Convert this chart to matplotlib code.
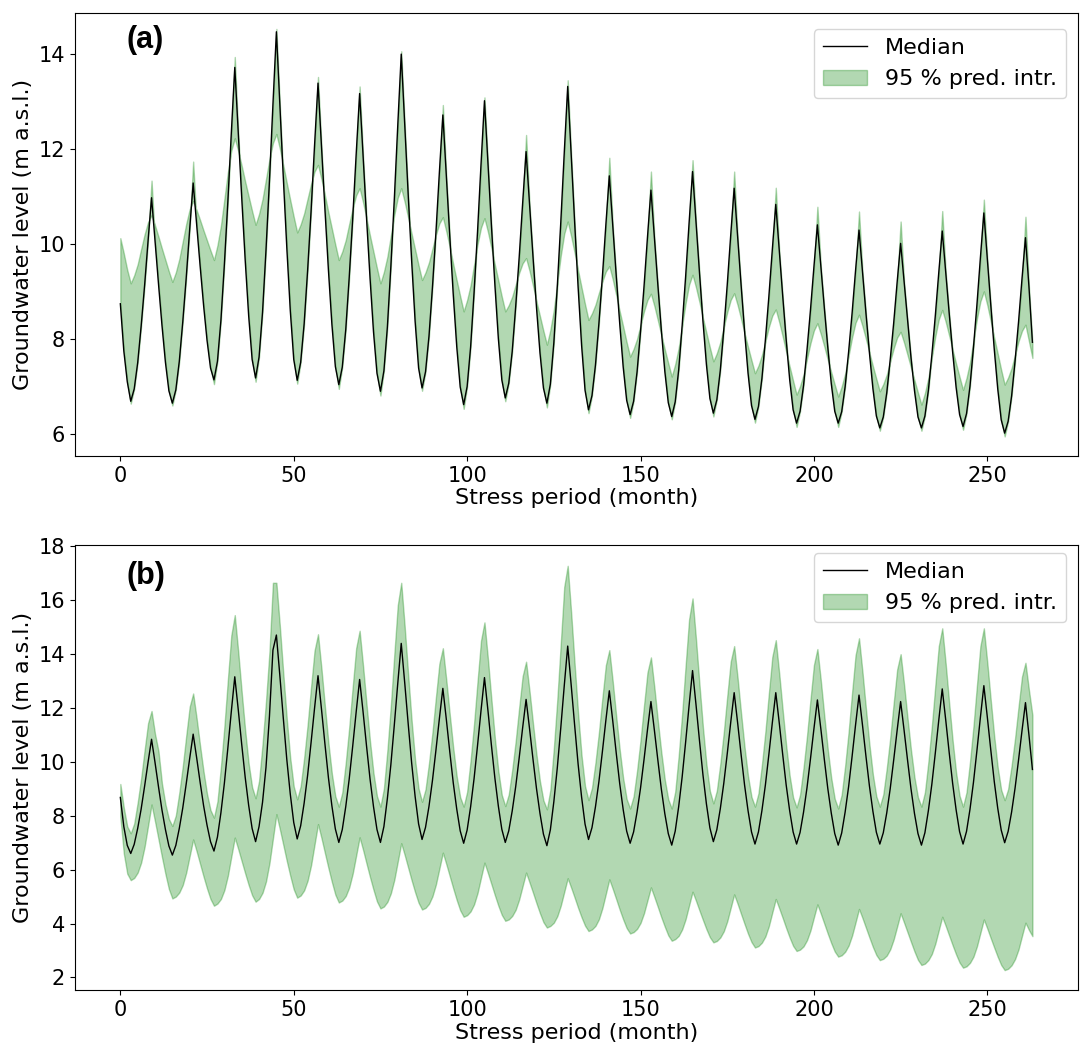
import numpy as np
import matplotlib
matplotlib.use("Agg")
import matplotlib.pyplot as plt

months = np.arange(264)

# ---------------- Panel (a) ----------------
median_a_rows = [
    [8.74, 7.75, 7.10],
    [6.69, 6.95, 7.50, 8.27, 9.13, 10.07, 10.97, 10.06, 9.16, 8.29, 7.51, 6.91],
    [6.65, 6.93, 7.53, 8.36, 9.29, 10.31, 11.28, 10.41, 9.54, 8.71, 7.97, 7.39],
    [7.14, 7.53, 8.39, 9.57, 10.89, 12.33, 13.71, 12.34, 10.97, 9.66, 8.49, 7.57],
    [7.18, 7.62, 8.56, 9.87, 11.33, 12.93, 14.46, 12.92, 11.38, 9.92, 8.60, 7.57],
    [7.13, 7.51, 8.32, 9.44, 10.69, 12.07, 13.38, 12.05, 10.72, 9.45, 8.31, 7.42],
    [7.04, 7.41, 8.20, 9.30, 10.53, 11.88, 13.16, 11.85, 10.53, 9.28, 8.15, 7.28],
    [6.90, 7.33, 8.25, 9.52, 10.94, 12.50, 13.99, 12.52, 11.04, 9.64, 8.37, 7.39],
    [6.97, 7.31, 8.06, 9.09, 10.24, 11.51, 12.71, 11.43, 10.15, 8.93, 7.84, 6.99],
    [6.62, 7.00, 7.83, 8.98, 10.26, 11.67, 13.01, 11.70, 10.39, 9.14, 8.01, 7.14],
    [6.76, 7.07, 7.74, 8.68, 9.71, 10.85, 11.94, 10.83, 9.72, 8.66, 7.71, 6.97],
    [6.65, 7.05, 7.92, 9.11, 10.45, 11.91, 13.31, 11.88, 10.45, 9.09, 7.87, 6.92],
    [6.51, 6.81, 7.45, 8.33, 9.31, 10.40, 11.43, 10.38, 9.32, 8.32, 7.41, 6.71],
    [6.41, 6.69, 7.31, 8.16, 9.10, 10.14, 11.13, 10.13, 9.13, 8.18, 7.32, 6.66],
    [6.37, 6.68, 7.35, 8.28, 9.31, 10.44, 11.52, 10.45, 9.39, 8.37, 7.46, 6.75],
    [6.44, 6.72, 7.34, 8.19, 9.14, 10.18, 11.17, 10.15, 9.13, 8.16, 7.28, 6.60],
    [6.31, 6.58, 7.17, 7.98, 8.89, 9.88, 10.83, 9.86, 8.90, 7.98, 7.15, 6.51],
    [6.23, 6.48, 7.02, 7.77, 8.61, 9.52, 10.40, 9.52, 8.65, 7.82, 7.06, 6.48],
    [6.23, 6.47, 7.00, 7.73, 8.54, 9.44, 10.29, 9.42, 8.54, 7.71, 6.96, 6.38],
    [6.13, 6.36, 6.87, 7.57, 8.34, 9.20, 10.01, 9.20, 8.38, 7.60, 6.91, 6.36],
    [6.13, 6.38, 6.92, 7.66, 8.49, 9.40, 10.27, 9.41, 8.54, 7.72, 6.98, 6.41],
    [6.16, 6.43, 7.01, 7.82, 8.72, 9.71, 10.65, 9.68, 8.71, 7.78, 6.95, 6.30],
    [6.02, 6.27, 6.80, 7.54, 8.36, 9.27, 10.13, 9.10, 7.93],
]

# band edge that follows the median: values read at peaks (spikes) and troughs (dips)
band_a_peak = [11.33, 11.73, 13.93, 14.52, 13.51, 13.31, 14.05, 12.92, 13.08, 12.29, 13.44,
               11.81, 11.52, 11.76, 11.52, 11.18, 10.78, 10.68, 10.47, 10.69, 10.93, 10.57]
band_a_trough = [6.64, 6.60, 7.05, 7.10, 7.06, 6.95, 6.81, 6.91, 6.53, 6.69, 6.56,
                 6.44, 6.34, 6.31, 6.37, 6.24, 6.15, 6.15, 6.07, 6.07, 6.09, 5.95]

# other (damped) band edge
band_a_other_rows = [
    [10.12, 9.80, 9.45],
    [9.17, 9.34, 9.57, 9.89, 10.20, 10.46, 10.60, 10.39, 10.15, 9.90, 9.66, 9.42],
    [9.20, 9.40, 9.68, 10.05, 10.42, 10.73, 10.90, 10.71, 10.50, 10.28, 10.07, 9.86],
    [9.66, 9.97, 10.38, 10.94, 11.50, 11.96, 12.22, 11.95, 11.64, 11.31, 11.00, 10.69],
    [10.40, 10.63, 10.94, 11.36, 11.78, 12.12, 12.31, 12.00, 11.65, 11.28, 10.92, 10.57],
    [10.24, 10.41, 10.64, 10.95, 11.26, 11.52, 11.66, 11.36, 11.02, 10.66, 10.32, 9.98],
    [9.66, 9.84, 10.08, 10.42, 10.75, 11.02, 11.17, 10.87, 10.53, 10.17, 9.83, 9.49],
    [9.17, 9.41, 9.73, 10.17, 10.61, 10.97, 11.17, 10.88, 10.55, 10.21, 9.88, 9.55],
    [9.24, 9.40, 9.61, 9.90, 10.19, 10.43, 10.56, 10.26, 9.93, 9.57, 9.23, 8.90],
    [8.58, 8.82, 9.13, 9.56, 9.99, 10.34, 10.54, 10.25, 9.91, 9.56, 9.23, 8.89],
    [8.58, 8.71, 8.89, 9.14, 9.39, 9.59, 9.70, 9.43, 9.12, 8.79, 8.48, 8.17],
    [7.88, 8.19, 8.61, 9.18, 9.75, 10.21, 10.47, 10.16, 9.81, 9.44, 9.08, 8.73],
    [8.40, 8.54, 8.72, 8.97, 9.21, 9.42, 9.53, 9.25, 8.92, 8.58, 8.26, 7.93],
    [7.63, 7.79, 8.00, 8.29, 8.58, 8.82, 8.95, 8.69, 8.39, 8.08, 7.78, 7.49],
    [7.21, 7.47, 7.81, 8.28, 8.75, 9.14, 9.35, 9.08, 8.77, 8.44, 8.13, 7.82],
    [7.53, 7.70, 7.93, 8.25, 8.56, 8.82, 8.96, 8.71, 8.42, 8.12, 7.83, 7.55],
    [7.28, 7.44, 7.66, 7.95, 8.25, 8.49, 8.62, 8.35, 8.05, 7.73, 7.42, 7.12],
    [6.83, 7.01, 7.25, 7.58, 7.91, 8.18, 8.33, 8.10, 7.84, 7.56, 7.30, 7.04],
    [6.79, 7.00, 7.27, 7.65, 8.03, 8.34, 8.51, 8.27, 8.00, 7.71, 7.43, 7.16],
    [6.90, 7.05, 7.25, 7.53, 7.80, 8.03, 8.15, 7.92, 7.66, 7.39, 7.13, 6.87],
    [6.62, 6.86, 7.18, 7.62, 8.05, 8.41, 8.61, 8.36, 8.07, 7.77, 7.48, 7.20],
    [6.93, 7.18, 7.51, 7.97, 8.42, 8.79, 9.00, 8.71, 8.37, 8.02, 7.69, 7.35],
    [7.04, 7.19, 7.39, 7.67, 7.95, 8.17, 8.30, 7.95, 7.60],
]

# ---------------- Panel (b) ----------------
median_b_rows = [
    [8.68, 7.60, 6.90],
    [6.60, 6.94, 7.53, 8.25, 9.10, 9.99, 10.84, 9.98, 9.08, 8.22, 7.49, 6.88],
    [6.54, 6.90, 7.53, 8.29, 9.19, 10.13, 11.03, 10.16, 9.25, 8.38, 7.65, 7.04],
    [6.69, 7.21, 8.11, 9.21, 10.51, 11.87, 13.16, 11.94, 10.65, 9.43, 8.39, 7.53],
    [7.04, 7.60, 8.50, 9.80, 11.70, 14.15, 14.71, 13.20, 11.61, 10.09, 8.81, 7.75],
    [7.14, 7.63, 8.47, 9.50, 10.72, 11.99, 13.20, 11.96, 10.66, 9.42, 8.37, 7.51],
    [7.01, 7.49, 8.34, 9.37, 10.58, 11.85, 13.06, 11.85, 10.58, 9.37, 8.34, 7.49],
    [7.01, 7.60, 8.64, 9.89, 11.37, 12.92, 14.40, 12.94, 11.42, 9.96, 8.72, 7.70],
    [7.12, 7.57, 8.35, 9.31, 10.43, 11.61, 12.73, 11.58, 10.37, 9.22, 8.25, 7.44],
    [6.98, 7.47, 8.33, 9.38, 10.61, 11.90, 13.13, 11.91, 10.62, 9.40, 8.36, 7.50],
    [7.01, 7.44, 8.18, 9.08, 10.14, 11.26, 12.32, 11.23, 10.09, 9.01, 8.09, 7.32],
    [6.89, 7.48, 8.52, 9.78, 11.26, 12.82, 14.30, 12.86, 11.36, 9.92, 8.70, 7.69],
    [7.12, 7.56, 8.33, 9.27, 10.38, 11.54, 12.64, 11.51, 10.32, 9.19, 8.23, 7.43],
    [6.98, 7.40, 8.14, 9.03, 10.08, 11.19, 12.24, 11.17, 10.06, 8.99, 8.08, 7.34],
    [6.91, 7.43, 8.34, 9.44, 10.73, 12.09, 13.39, 12.12, 10.79, 9.52, 8.44, 7.55],
    [7.04, 7.48, 8.26, 9.20, 10.30, 11.46, 12.57, 11.45, 10.27, 9.14, 8.19, 7.40],
    [6.95, 7.40, 8.19, 9.14, 10.27, 11.45, 12.57, 11.45, 10.27, 9.14, 8.19, 7.40],
    [6.95, 7.38, 8.13, 9.04, 10.11, 11.23, 12.30, 11.22, 10.09, 9.01, 8.10, 7.34],
    [6.91, 7.36, 8.14, 9.08, 10.20, 11.37, 12.48, 11.37, 10.21, 9.11, 8.17, 7.39],
    [6.95, 7.37, 8.11, 9.01, 10.07, 11.18, 12.24, 11.17, 10.06, 8.99, 8.08, 7.34],
    [6.91, 7.37, 8.19, 9.17, 10.33, 11.55, 12.71, 11.56, 10.35, 9.20, 8.22, 7.41],
    [6.95, 7.42, 8.24, 9.24, 10.42, 11.65, 12.83, 11.66, 10.44, 9.27, 8.28, 7.47],
    [7.00, 7.42, 8.14, 9.03, 10.07, 11.16, 12.20, 11.00, 9.72],
]

upper_b_rows = [
    [9.18, 8.30, 7.60],
    [7.35, 7.71, 8.49, 9.39, 10.44, 11.44, 11.89, 11.04, 10.40, 9.20, 8.43, 7.88],
    [7.62, 8.01, 8.85, 9.83, 10.97, 12.05, 12.54, 11.62, 10.60, 9.64, 8.81, 8.21],
    [7.93, 8.53, 9.81, 11.31, 13.04, 14.70, 15.45, 14.09, 12.59, 11.17, 9.94, 9.06],
    [8.65, 9.29, 10.65, 12.25, 14.09, 16.65, 16.65, 15.04, 13.27, 11.59, 10.14, 9.09],
    [8.61, 9.10, 10.14, 11.37, 12.78, 14.13, 14.74, 13.46, 12.05, 10.71, 9.56, 8.72],
    [8.34, 8.86, 9.97, 11.28, 12.78, 14.22, 14.87, 13.56, 12.13, 10.76, 9.58, 8.73],
    [8.34, 9.01, 10.42, 12.08, 13.99, 15.82, 16.65, 15.02, 13.24, 11.53, 10.07, 9.01],
    [8.52, 8.98, 9.95, 11.09, 12.40, 13.65, 14.22, 13.04, 11.75, 10.52, 9.46, 8.69],
    [8.34, 8.89, 10.05, 11.42, 12.99, 14.50, 15.18, 13.82, 12.32, 10.88, 9.66, 8.77],
    [8.36, 8.79, 9.70, 10.77, 12.01, 13.18, 13.72, 12.62, 11.42, 10.27, 9.28, 8.57],
    [8.24, 8.96, 10.50, 12.31, 14.39, 16.50, 17.28, 15.54, 13.63, 11.80, 10.23, 9.10],
    [8.58, 9.03, 9.97, 11.09, 12.37, 13.59, 14.15, 12.97, 11.68, 10.45, 9.39, 8.62],
    [8.27, 8.72, 9.67, 10.80, 12.09, 13.32, 13.88, 12.76, 11.52, 10.35, 9.34, 8.61],
    [8.27, 8.89, 10.22, 11.78, 13.57, 15.29, 16.07, 14.55, 12.87, 11.28, 9.91, 8.92],
    [8.46, 8.93, 9.92, 11.09, 12.43, 13.72, 14.30, 13.11, 11.80, 10.55, 9.47, 8.70],
    [8.34, 8.83, 9.89, 11.12, 12.54, 13.90, 14.52, 13.28, 11.91, 10.61, 9.49, 8.68],
    [8.31, 8.78, 9.78, 10.96, 12.31, 13.60, 14.19, 13.01, 11.70, 10.46, 9.40, 8.63],
    [8.27, 8.78, 9.85, 11.11, 12.57, 13.96, 14.59, 13.34, 11.97, 10.65, 9.53, 8.72],
    [8.34, 8.79, 9.76, 10.89, 12.19, 13.43, 14.00, 12.87, 11.62, 10.43, 9.42, 8.68],
    [8.34, 8.87, 10.00, 11.32, 12.84, 14.30, 14.96, 13.64, 12.18, 10.79, 9.60, 8.74],
    [8.34, 8.87, 10.00, 11.32, 12.84, 14.30, 14.96, 13.68, 12.28, 10.94, 9.79, 8.96],
    [8.58, 8.99, 9.86, 10.88, 12.05, 13.17, 13.68, 12.67, 11.74],
]

lower_b_rows = [
    [7.97, 6.60, 5.85],
    [5.61, 5.69, 5.89, 6.26, 6.85, 7.63, 8.42, 7.79, 7.13, 6.47, 5.84, 5.28],
    [4.93, 5.00, 5.15, 5.43, 5.89, 6.51, 7.12, 6.68, 6.21, 5.74, 5.30, 4.91],
    [4.66, 4.74, 4.91, 5.24, 5.77, 6.48, 7.19, 6.76, 6.31, 5.86, 5.43, 5.05],
    [4.81, 4.91, 5.14, 5.56, 6.24, 7.15, 8.06, 7.50, 6.91, 6.32, 5.77, 5.27],
    [4.96, 5.04, 5.23, 5.59, 6.16, 6.93, 7.69, 7.17, 6.61, 6.06, 5.54, 5.07],
    [4.78, 4.85, 5.02, 5.34, 5.85, 6.52, 7.20, 6.73, 6.22, 5.72, 5.25, 4.82],
    [4.56, 4.63, 4.80, 5.12, 5.62, 6.30, 6.98, 6.54, 6.07, 5.60, 5.16, 4.77],
    [4.52, 4.58, 4.73, 5.01, 5.45, 6.04, 6.63, 6.20, 5.75, 5.30, 4.87, 4.49],
    [4.25, 4.31, 4.45, 4.71, 5.13, 5.70, 6.26, 5.87, 5.46, 5.05, 4.66, 4.32],
    [4.10, 4.15, 4.28, 4.51, 4.89, 5.39, 5.89, 5.52, 5.14, 4.75, 4.38, 4.05],
    [3.85, 3.91, 4.03, 4.27, 4.66, 5.17, 5.68, 5.33, 4.96, 4.58, 4.23, 3.92],
    [3.72, 3.78, 3.91, 4.16, 4.57, 5.10, 5.64, 5.28, 4.90, 4.51, 4.15, 3.83],
    [3.63, 3.68, 3.80, 4.02, 4.38, 4.86, 5.34, 4.98, 4.61, 4.23, 3.88, 3.56],
    [3.36, 3.42, 3.54, 3.78, 4.16, 4.67, 5.18, 4.84, 4.48, 4.13, 3.79, 3.49],
    [3.30, 3.35, 3.48, 3.71, 4.08, 4.58, 5.08, 4.73, 4.35, 3.98, 3.62, 3.31],
    [3.11, 3.16, 3.29, 3.52, 3.90, 4.41, 4.91, 4.56, 4.20, 3.83, 3.48, 3.17],
    [2.98, 3.03, 3.15, 3.38, 3.74, 4.23, 4.71, 4.36, 3.99, 3.62, 3.27, 2.96],
    [2.77, 2.82, 2.95, 3.18, 3.55, 4.04, 4.54, 4.20, 3.84, 3.48, 3.13, 2.83],
    [2.64, 2.69, 2.81, 3.04, 3.41, 3.89, 4.38, 4.03, 3.67, 3.31, 2.96, 2.65],
    [2.46, 2.51, 2.64, 2.87, 3.25, 3.75, 4.25, 3.91, 3.55, 3.19, 2.85, 2.55],
    [2.36, 2.41, 2.54, 2.77, 3.15, 3.65, 4.15, 3.81, 3.45, 3.10, 2.76, 2.46],
    [2.27, 2.32, 2.45, 2.68, 3.04, 3.54, 4.03, 3.76, 3.53],
]

x_ticks = [0, 50, 100, 150, 200, 250]
y_ticks_a = [6, 8, 10, 12, 14]
y_ticks_b = [2, 4, 6, 8, 10, 12, 14, 16, 18]
panel_labels = ["(a)", "(b)"]
legend_labels = ["Median", "95 % pred. intr."]
xlabel = "Stress period (month)"
ylabel = "Groundwater level (m a.s.l.)"

# ---------------- assemble ----------------
median_a = np.concatenate(median_a_rows)
other_a = np.concatenate(band_a_other_rows)
edge_a = median_a.copy()
peak_idx = 9 + 12 * np.arange(22)
trough_idx = 3 + 12 * np.arange(22)
edge_a[peak_idx] = band_a_peak
edge_a[trough_idx] = band_a_trough

median_b = np.concatenate(median_b_rows)
upper_b = np.concatenate(upper_b_rows)
lower_b = np.concatenate(lower_b_rows)

fig = plt.figure(figsize=(10.91, 10.53), dpi=100)
ax_a = fig.add_axes([0.0685, 0.5670, 0.9196, 0.4209])
ax_b = fig.add_axes([0.0685, 0.0598, 0.9196, 0.4223])

def draw(ax, med, lo, hi, yticks, ylim, label, label_y, leg_anchor):
    ax.plot(months, med, color="black", lw=1.0, label=legend_labels[0], zorder=3)
    ax.fill_between(months, lo, hi, color="g", alpha=0.3, label=legend_labels[1])
    ax.set_xticks(x_ticks)
    ax.set_yticks(yticks)
    ax.set_xlim(-13.15, 276.15)
    ax.set_ylim(*ylim)
    ax.tick_params(labelsize=15)
    ax.set_xlabel(xlabel, fontsize=16, labelpad=2)
    ax.set_ylabel(ylabel, fontsize=16)
    ax.legend(loc="upper right", fontsize=16, borderaxespad=0.0,
              bbox_to_anchor=leg_anchor)
    ax.text(0.052, label_y, label, transform=ax.transAxes, fontsize=22,
            fontweight="bold", family=["Liberation Sans", "DejaVu Sans"],
            va="center", ha="left")

draw(ax_a, median_a, edge_a, other_a, y_ticks_a, (5.54, 14.86), panel_labels[0], 0.938,
     (0.988, 0.963))
draw(ax_b, median_b, lower_b, upper_b, y_ticks_b, (1.53, 18.04), panel_labels[1], 0.931,
     (0.988, 0.982))

fig.savefig("out.png", dpi=100)
